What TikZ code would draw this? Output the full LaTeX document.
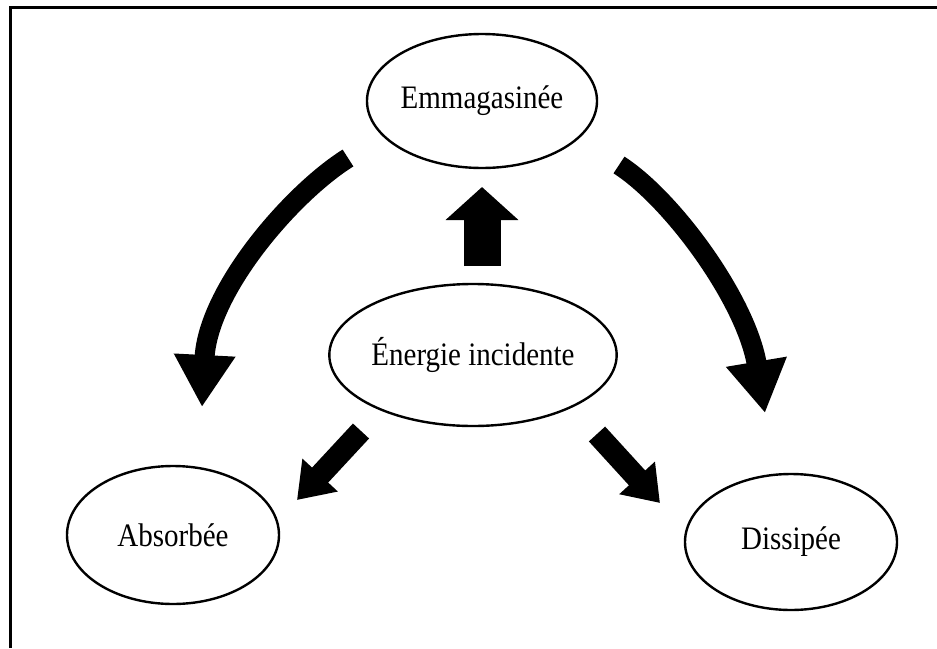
\documentclass[tikz,border=0pt]{standalone}
\usepackage{fontspec}
\setmainfont{Liberation Serif}
\usetikzlibrary{shapes.geometric,arrows.meta}
\tikzset{
  bubble/.style={ellipse, draw=black, line width=2.4pt, inner sep=0pt, fill=white,
    font=\fontsize{29}{29}\selectfont},
  bigcurve/.style={line width=20pt, -{Triangle[length=52pt,width=58pt]}},
  smallarrow/.style={line width=22pt, -{Triangle[length=34pt,width=46pt]}},
  uparrow/.style={line width=37pt, -{Triangle[length=33pt,width=71pt]}},
}
\newcommand{\stretchtxt}[1]{\scalebox{1}[1.13]{#1}}
\begin{document}
\begin{tikzpicture}[x=1pt,y=-1pt]
  \useasboundingbox (0,0) rectangle (937,648);
  \fill[white] (0,0) rectangle (937,648);
  % frame (top and left edges)
  \draw[line width=3pt] (10.5,648) -- (10.5,7.5) -- (937,7.5);

  % nodes
  \node[bubble, minimum width=216pt, minimum height=134pt] (emm) at (482,101) {\stretchtxt{Emmagasinée}};
  \node[bubble, minimum width=256pt, minimum height=142pt] (ene) at (473,355) {\stretchtxt{Énergie incidente}};
  \node[bubble, minimum width=212pt, minimum height=138pt] (abs) at (173,535) {\stretchtxt{Absorbée}};
  \node[bubble, minimum width=212pt, minimum height=136pt] (dis) at (791,542) {\stretchtxt{Dissipée}};

  % arrow end points
  \coordinate (upS) at (482,266);
  \coordinate (upT) at (482,187);
  \coordinate (lS) at (348,158);
  \coordinate (lT) at (202,407);
  \coordinate (rS) at (619,165);
  \coordinate (rT) at (765,413);
  \coordinate (llS) at (361,431);
  \coordinate (llT) at (297,500);
  \coordinate (lrS) at (597,434);
  \coordinate (lrT) at (660,503);

  % arrows
  \draw[uparrow] (upS) -- (upT);
  \draw[bigcurve] (lS) .. controls (292,193) and (208,290) .. (lT);
  \draw[bigcurve] (rS) .. controls (672,199) and (746,300) .. (rT);
  \draw[smallarrow] (llS) -- (llT);
  \draw[smallarrow] (lrS) -- (lrT);
\end{tikzpicture}
\end{document}
